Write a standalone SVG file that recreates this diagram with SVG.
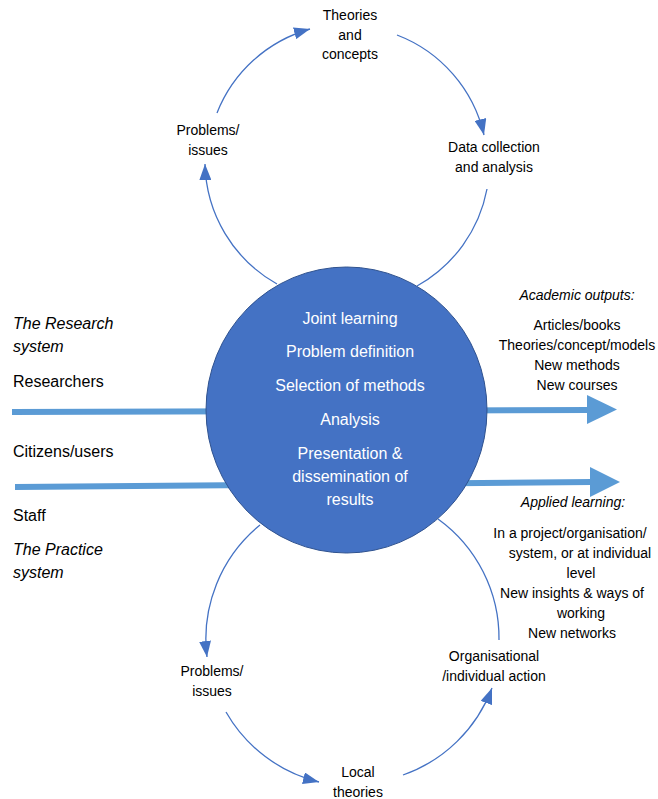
<svg xmlns="http://www.w3.org/2000/svg" width="658" height="799" viewBox="0 0 658 799">
<style>
  text { font-family: "Liberation Sans", Arial, sans-serif; fill: #000; }
  .lbl { font-size: 14px; text-anchor: middle; }
  .side { font-size: 16px; }
  .it { font-style: italic; }
  .inner { font-size: 16px; fill: #fff; text-anchor: middle; }
  .arc { fill: none; stroke: #4472C4; stroke-width: 1.3; }
  .flow { stroke: #5B9BD5; stroke-width: 6; fill: none; }
  .head { fill: #5B9BD5; }
</style>
<defs>
  <marker id="tri" markerUnits="userSpaceOnUse" markerWidth="16" markerHeight="12" refX="16" refY="6" orient="auto" viewBox="0 0 16 12">
    <path d="M0,0 L16,6 L0,12 Z" fill="#4472C4"/>
  </marker>
</defs>
<rect width="658" height="799" fill="#fff"/>

<g id="connectors">
  <line class="flow" x1="12" y1="412" x2="589" y2="410"/>
  <polygon class="head" points="587,395 617,409.5 587,424"/>
  <line class="flow" x1="15" y1="487" x2="592" y2="482"/>
  <polygon class="head" points="590,467 620,482 590,497"/>

  <path class="arc" d="M277,284 A141,141 0 0 1 205,164" marker-end="url(#tri)"/>
  <path class="arc" d="M217,113 A141,141 0 0 1 310,29" marker-end="url(#tri)"/>
  <path class="arc" d="M397,35 A141,141 0 0 1 484,135" marker-end="url(#tri)"/>
  <path class="arc" d="M487,189 A141,141 0 0 1 417,286"/>

  <path class="arc" d="M260,525 A147,147 0 0 0 207,657" marker-end="url(#tri)"/>
  <path class="arc" d="M226,712 A147,147 0 0 0 319,782" marker-end="url(#tri)"/>
  <path class="arc" d="M403,775 A147,147 0 0 0 492,688" marker-end="url(#tri)"/>
  <path class="arc" d="M499,640 A147,147 0 0 0 438,519"/>
</g>

<g id="joint-learning">
  <ellipse cx="346.5" cy="410" rx="140.5" ry="143" fill="#4472C4" stroke="#2F528F" stroke-width="1"/>
  <text class="inner" x="350" y="323.5">Joint learning</text>
  <text class="inner" x="350" y="357">Problem definition</text>
  <text class="inner" x="350" y="390.5">Selection of methods</text>
  <text class="inner" x="350" y="424.5">Analysis</text>
  <text class="inner" x="350" y="458.5">Presentation &amp;</text>
  <text class="inner" x="350" y="481.5">dissemination of</text>
  <text class="inner" x="350" y="504.5">results</text>
</g>

<g id="theories-concepts">
  <text class="lbl" x="350" y="20">Theories</text>
  <text class="lbl" x="350" y="39.5">and</text>
  <text class="lbl" x="350" y="59">concepts</text>
</g>
<g id="problems-top">
  <text class="lbl" x="208" y="135">Problems/</text>
  <text class="lbl" x="208" y="155">issues</text>
</g>
<g id="data-collection">
  <text class="lbl" x="494" y="152">Data collection</text>
  <text class="lbl" x="494" y="171.5">and analysis</text>
</g>
<g id="problems-bottom">
  <text class="lbl" x="212" y="676">Problems/</text>
  <text class="lbl" x="212" y="696">issues</text>
</g>
<g id="local-theories">
  <text class="lbl" x="358" y="777">Local</text>
  <text class="lbl" x="358" y="797">theories</text>
</g>
<g id="organisational-action">
  <text class="lbl" x="494" y="661">Organisational</text>
  <text class="lbl" x="494" y="681">/individual action</text>
</g>

<g id="research-system">
  <text class="side it" x="13" y="329">The Research</text>
  <text class="side it" x="13" y="352">system</text>
  <text class="side" x="13" y="386.5">Researchers</text>
</g>
<g id="practice-system">
  <text class="side" x="13" y="456.5">Citizens/users</text>
  <text class="side" x="13" y="520.5">Staff</text>
  <text class="side it" x="13" y="555">The Practice</text>
  <text class="side it" x="13" y="578">system</text>
</g>

<g id="academic-outputs">
  <text class="lbl it" x="577" y="300">Academic outputs:</text>
  <text class="lbl" x="577" y="330">Articles/books</text>
  <text class="lbl" x="577" y="350">Theories/concept/models</text>
  <text class="lbl" x="577" y="370">New methods</text>
  <text class="lbl" x="577" y="390">New courses</text>
</g>
<g id="applied-learning">
  <text class="lbl it" x="573" y="507">Applied learning:</text>
  <text class="lbl" x="570" y="538">In a project/organisation/</text>
  <text class="lbl" x="580" y="558">system, or at individual</text>
  <text class="lbl" x="581" y="578">level</text>
  <text class="lbl" x="572" y="598">New insights &amp; ways of</text>
  <text class="lbl" x="581" y="618">working</text>
  <text class="lbl" x="572" y="638">New networks</text>
</g>
</svg>
